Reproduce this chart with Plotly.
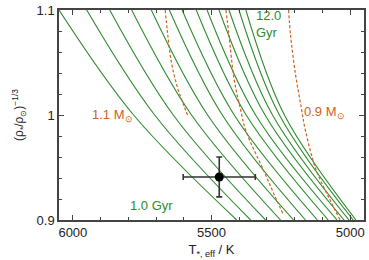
import plotly.graph_objects as go

# Isochrones: T_eff (K) at rho^-1/3 = 1.1, 1.0, 0.9
iso_y = [1.1, 1.0, 0.9]
iso_T = [
    [6050, 5781, 5409],
    [5950, 5705, 5359],
    [5867, 5638, 5305],
    [5788, 5572, 5251],
    [5717, 5514, 5204],
    [5652, 5461, 5161],
    [5606, 5418, 5118],
    [5555, 5375, 5079],
    [5516, 5341, 5047],
    [5473, 5307, 5022],
    [5437, 5280, 5004],
    [5401, 5255, 4989],
    [5376, 5237, 4979],
]

# Mass tracks
trk11_T = [5667, 5659, 5645, 5624, 5599, 5585]
trk11_y = [1.1, 1.0792, 1.0509, 1.0274, 1.0085, 0.9990]
trk10_T = [5448, 5437, 5419, 5394, 5376, 5312, 5265, 5240]
trk10_y = [1.1, 1.0764, 1.0349, 1.0038, 0.9849, 0.9472, 0.9189, 0.9047]
trk09_T = [5222, 5215, 5197, 5176, 5161, 5122, 5072, 5036]
trk09_y = [1.1, 1.0764, 1.0387, 1.0066, 0.9849, 0.9472, 0.9189, 0.9]

# Star
star_T = [5472]
star_y = [0.941]
star_T_err = [130]
star_y_err = [0.019]

GREEN = "#2e8b2e"
ORANGE = "#d2601e"
FONT = "Liberation Sans, Arial, sans-serif"

fig = go.Figure()
for T in iso_T:
    fig.add_trace(go.Scatter(x=T, y=iso_y, mode="lines",
                             line=dict(color=GREEN, width=1.1, shape="spline"),
                             showlegend=False, hoverinfo="skip"))
for T, Y in [(trk11_T, trk11_y), (trk10_T, trk10_y), (trk09_T, trk09_y)]:
    fig.add_trace(go.Scatter(x=T, y=Y, mode="lines",
                             line=dict(color=ORANGE, width=1.2, dash="3px,2px", shape="spline"),
                             showlegend=False, hoverinfo="skip"))

fig.add_trace(go.Scatter(
    x=star_T, y=star_y, mode="markers",
    marker=dict(color="black", size=9),
    error_x=dict(type="data", array=star_T_err, color="#333333", thickness=1.6, width=3),
    error_y=dict(type="data", array=star_y_err, color="#333333", thickness=1.6, width=3),
    showlegend=False))

ann = [
    dict(x=5348, y=1.087, text="12.0<br>Gyr", xanchor="left", yanchor="middle", align="left",
         font=dict(color=GREEN, size=13, family=FONT)),
    dict(x=5940, y=1.0, text="1.1 M<sub>⊙</sub>", xanchor="left", yanchor="middle",
         font=dict(color=ORANGE, size=13, family=FONT)),
    dict(x=5172, y=1.002, text="0.9 M<sub>⊙</sub>", xanchor="left", yanchor="middle",
         font=dict(color=ORANGE, size=13, family=FONT)),
    dict(x=5800, y=0.914, text="1.0 Gyr", xanchor="left", yanchor="middle",
         font=dict(color=GREEN, size=13, family=FONT)),
]
for a in ann:
    a.update(showarrow=False)
    fig.add_annotation(**a)

axis_common = dict(showgrid=False, zeroline=False, showline=True, linecolor="#444444",
                   linewidth=1.5, mirror="allticks", ticks="inside", ticklen=5,
                   tickcolor="#444444", tickwidth=1,
                   tickfont=dict(size=13, color="#222222", family=FONT))

fig.update_xaxes(range=[6050, 4950], dtick=500, tick0=5000,
                 minor=dict(dtick=100, ticks="inside", ticklen=3, tickcolor="#444444"),
                 title=dict(text="T<sub>*, eff</sub> / K", standoff=6,
                            font=dict(size=13, color="#222222", family=FONT)),
                 **axis_common)
fig.update_yaxes(range=[0.9, 1.1], dtick=0.1, tick0=0.9,
                 minor=dict(dtick=0.02, ticks="inside", ticklen=3, tickcolor="#444444"),
                 title=dict(text="(ρ<sub>*</sub>/ρ<sub>⊙</sub>)<sup>−1/3</sup>", standoff=10,
                            font=dict(size=12, color="#222222", family=FONT)),
                 **axis_common)

fig.update_layout(width=369, height=260, margin=dict(l=59, r=3, t=8, b=40),
                  paper_bgcolor="white", plot_bgcolor="white",
                  font=dict(family=FONT))
fig.write_html("out.html")
